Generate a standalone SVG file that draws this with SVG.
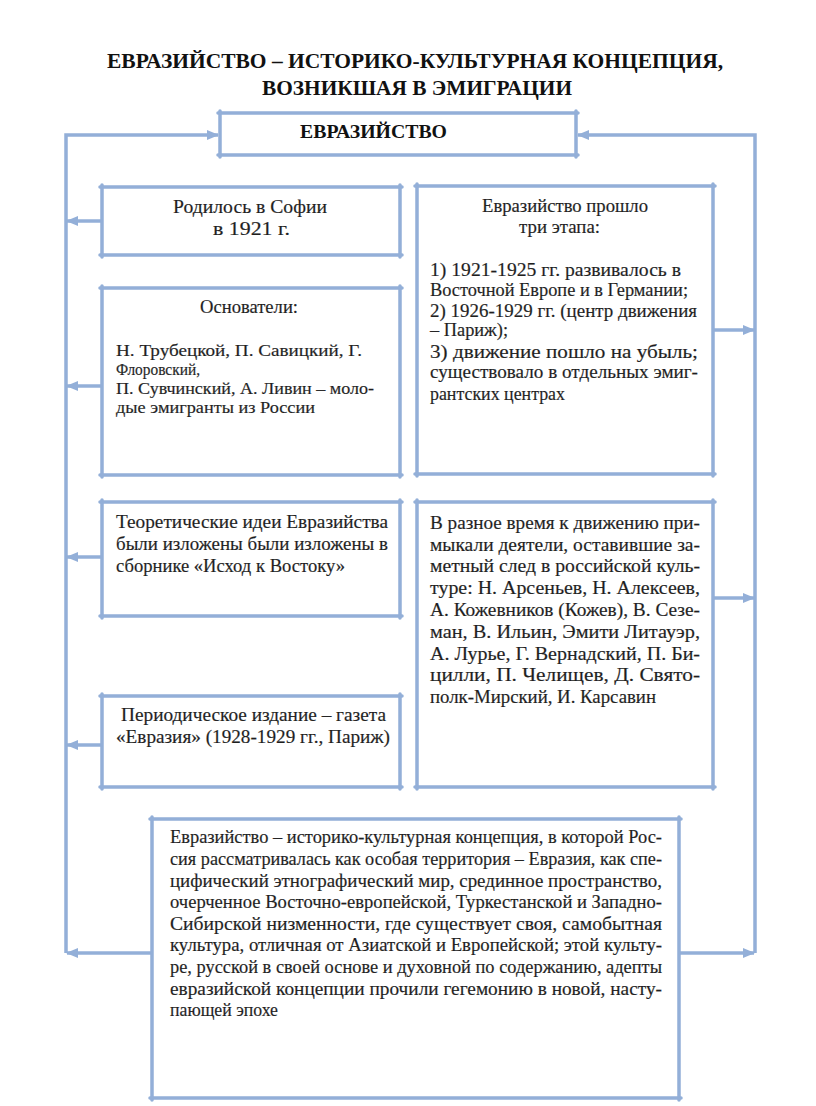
<svg xmlns="http://www.w3.org/2000/svg" width="816" height="1106" viewBox="0 0 816 1106">
<style>
.bx{fill:none;stroke:#93afd8;stroke-width:3.5;stroke-linecap:round}
.cn{fill:none;stroke:#93afd8;stroke-width:3.5}
.t{font-family:"Liberation Serif","Times New Roman",serif;font-size:19px;fill:#1e1e1e;stroke:#3a3a3a;stroke-width:0.2}
.s{font-size:16px}
.h{font-family:"Liberation Serif","Times New Roman",serif;font-weight:bold;fill:#111}
</style>
<defs>
<marker id="ar" markerUnits="userSpaceOnUse" markerWidth="12" markerHeight="10" refX="11" refY="5" orient="auto">
<path d="M0 0 L12 5 L0 10 Z" fill="#93afd8"/>
</marker>
</defs>
<rect width="816" height="1106" fill="#fff"/>
<g id="title">
<text class="h" font-size="20" x="107" y="68" textLength="616" lengthAdjust="spacingAndGlyphs">ЕВРАЗИЙСТВО – ИСТОРИКО-КУЛЬТУРНАЯ КОНЦЕПЦИЯ,</text>
<text class="h" font-size="20" x="262" y="95" textLength="310" lengthAdjust="spacingAndGlyphs">ВОЗНИКШАЯ В ЭМИГРАЦИИ</text>
</g>
<g id="connectors">
<path class="cn" d="M66 953 V135 H218" marker-end="url(#ar)"/>
<path class="cn" d="M755 953 V135 H578" marker-end="url(#ar)"/>
<path class="cn" d="M152 953 H67" marker-end="url(#ar)"/>
<path class="cn" d="M679 953 H754" marker-end="url(#ar)"/>
<path class="cn" d="M102 221 H67" marker-end="url(#ar)"/>
<path class="cn" d="M102 386 H67" marker-end="url(#ar)"/>
<path class="cn" d="M102 557 H67" marker-end="url(#ar)"/>
<path class="cn" d="M102 745 H67" marker-end="url(#ar)"/>
<path class="cn" d="M713 330 H754" marker-end="url(#ar)"/>
<path class="cn" d="M713 598 H754" marker-end="url(#ar)"/>
</g>
<g id="n-top">
<path class="bx" d="M218 113 H578 M576 111 V157 M578 155 H218 M220 157 V111"/>
<text class="h" font-size="18" x="300" y="138" textLength="147" lengthAdjust="spacingAndGlyphs">ЕВРАЗИЙСТВО</text>
</g>
<g id="n-sofia">
<path class="bx" d="M100 187 H402 M400 185 V257 M402 255 H100 M102 257 V185"/>
<text class="t" x="173" y="213" textLength="154" lengthAdjust="spacingAndGlyphs">Родилось в Софии</text>
<text class="t" x="213" y="235" textLength="77" lengthAdjust="spacingAndGlyphs">в 1921 г.</text>
</g>
<g id="n-founders">
<path class="bx" d="M100 288 H402 M400 286 V477 M402 475 H100 M102 477 V286"/>
<text class="t" x="200" y="313" textLength="98" lengthAdjust="spacingAndGlyphs">Основатели:</text>
<text class="t s" x="116" y="356" textLength="246" lengthAdjust="spacingAndGlyphs">Н. Трубецкой, П. Савицкий, Г.</text>
<text class="t s" x="116" y="375" textLength="84" lengthAdjust="spacingAndGlyphs">Флоровский,</text>
<text class="t s" x="116" y="394" textLength="258" lengthAdjust="spacingAndGlyphs">П. Сувчинский, А. Ливин – моло-</text>
<text class="t s" x="116" y="413" textLength="199" lengthAdjust="spacingAndGlyphs">дые эмигранты из России</text>
</g>
<g id="n-theory">
<path class="bx" d="M100 502 H402 M400 500 V618 M402 616 H100 M102 618 V500"/>
<text class="t" x="116" y="528" textLength="272" lengthAdjust="spacingAndGlyphs">Теоретические идеи Евразийства</text>
<text class="t" x="116" y="550" textLength="272" lengthAdjust="spacingAndGlyphs">были изложены были изложены в</text>
<text class="t" x="116" y="572" textLength="229" lengthAdjust="spacingAndGlyphs">сборнике «Исход к Востоку»</text>
</g>
<g id="n-newspaper">
<path class="bx" d="M100 696 H402 M400 694 V789 M402 787 H100 M102 789 V694"/>
<text class="t" x="121" y="721" textLength="265" lengthAdjust="spacingAndGlyphs">Периодическое издание – газета</text>
<text class="t" x="116" y="743" textLength="274" lengthAdjust="spacingAndGlyphs">«Евразия» (1928-1929 гг., Париж)</text>
</g>
<g id="n-stages">
<path class="bx" d="M415 186 H715 M713 184 V476 M715 474 H415 M417 476 V184"/>
<text class="t" x="482" y="212" textLength="166" lengthAdjust="spacingAndGlyphs">Евразийство прошло</text>
<text class="t" x="519" y="233" textLength="81" lengthAdjust="spacingAndGlyphs">три этапа:</text>
<text class="t" x="430" y="276" textLength="251" lengthAdjust="spacingAndGlyphs">1)  1921-1925 гг. развивалось в</text>
<text class="t" x="430" y="296" textLength="258" lengthAdjust="spacingAndGlyphs">Восточной Европе и в Германии;</text>
<text class="t" x="430" y="317" textLength="267" lengthAdjust="spacingAndGlyphs">2) 1926-1929 гг. (центр движения</text>
<text class="t" x="430" y="336" textLength="78" lengthAdjust="spacingAndGlyphs">– Париж);</text>
<text class="t" x="430" y="358" textLength="268" lengthAdjust="spacingAndGlyphs">3) движение пошло на убыль;</text>
<text class="t" x="430" y="378" textLength="268" lengthAdjust="spacingAndGlyphs">существовало в отдельных эмиг-</text>
<text class="t" x="430" y="400" textLength="135" lengthAdjust="spacingAndGlyphs">рантских центрах</text>
</g>
<g id="n-members">
<path class="bx" d="M415 502 H715 M713 500 V789 M715 787 H415 M417 789 V500"/>
<text class="t" x="430" y="529" textLength="270" lengthAdjust="spacingAndGlyphs">В разное время к движению при-</text>
<text class="t" x="430" y="551" textLength="270" lengthAdjust="spacingAndGlyphs">мыкали деятели, оставившие за-</text>
<text class="t" x="430" y="572" textLength="270" lengthAdjust="spacingAndGlyphs">метный след в российской куль-</text>
<text class="t" x="430" y="594" textLength="270" lengthAdjust="spacingAndGlyphs">туре: Н. Арсеньев, Н. Алексеев,</text>
<text class="t" x="430" y="616" textLength="270" lengthAdjust="spacingAndGlyphs">А. Кожевников (Кожев), В. Сезе-</text>
<text class="t" x="430" y="638" textLength="270" lengthAdjust="spacingAndGlyphs">ман, В. Ильин, Эмити Литауэр,</text>
<text class="t" x="430" y="660" textLength="270" lengthAdjust="spacingAndGlyphs">А. Лурье, Г. Вернадский, П. Би-</text>
<text class="t" x="430" y="681" textLength="270" lengthAdjust="spacingAndGlyphs">цилли, П. Челищев, Д. Свято-</text>
<text class="t" x="430" y="703" textLength="226" lengthAdjust="spacingAndGlyphs">полк-Мирский, И. Карсавин</text>
</g>
<g id="n-definition">
<path class="bx" d="M150 819 H681 M679 817 V1100 M681 1098 H150 M152 1100 V817"/>
<text class="t" x="170" y="843" textLength="492" lengthAdjust="spacingAndGlyphs">Евразийство – историко-культурная концепция, в которой Рос-</text>
<text class="t" x="170" y="865" textLength="492" lengthAdjust="spacingAndGlyphs">сия рассматривалась как особая территория – Евразия, как спе-</text>
<text class="t" x="170" y="887" textLength="492" lengthAdjust="spacingAndGlyphs">цифический этнографический мир, срединное пространство,</text>
<text class="t" x="170" y="908" textLength="492" lengthAdjust="spacingAndGlyphs">очерченное Восточно-европейской, Туркестанской и Западно-</text>
<text class="t" x="170" y="930" textLength="492" lengthAdjust="spacingAndGlyphs">Сибирской низменности, где существует своя, самобытная</text>
<text class="t" x="170" y="951" textLength="492" lengthAdjust="spacingAndGlyphs">культура, отличная от Азиатской и Европейской; этой культу-</text>
<text class="t" x="170" y="973" textLength="492" lengthAdjust="spacingAndGlyphs">ре, русской в своей основе и духовной по содержанию, адепты</text>
<text class="t" x="170" y="995" textLength="492" lengthAdjust="spacingAndGlyphs">евразийской концепции прочили гегемонию в новой, насту-</text>
<text class="t" x="170" y="1016" textLength="108" lengthAdjust="spacingAndGlyphs">пающей эпохе</text>
</g>
</svg>
